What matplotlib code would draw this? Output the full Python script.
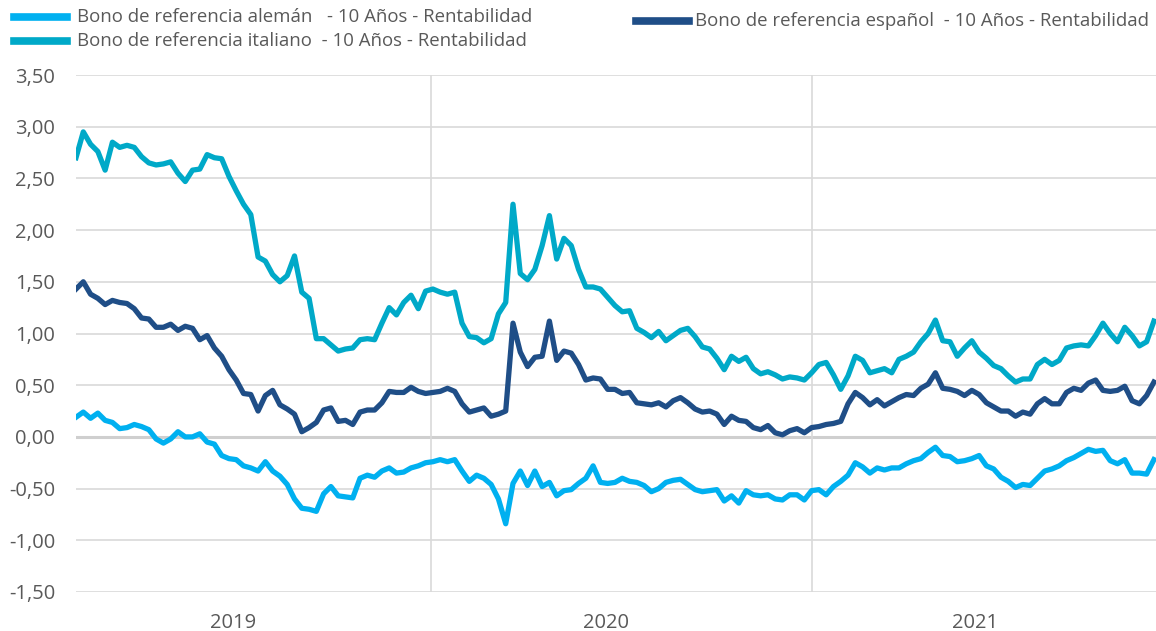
import matplotlib.pyplot as plt
from matplotlib.lines import Line2D
import pandas as pd

# weekly observations (Fridays) from 25-01-2019
fechas = pd.date_range('2019-01-25', periods=149, freq='7D')

aleman = [0.19, 0.24, 0.18, 0.23, 0.16, 0.14, 0.08, 0.09, 0.12, 0.10,
          0.07, -0.02, -0.06, -0.02, 0.05, 0.00, 0.00, 0.03, -0.05, -0.07,
          -0.18, -0.21, -0.22, -0.28, -0.30, -0.33, -0.24, -0.33, -0.38, -0.46,
          -0.60, -0.69, -0.70, -0.72, -0.55, -0.48, -0.57, -0.58, -0.59, -0.40,
          -0.37, -0.39, -0.33, -0.30, -0.35, -0.34, -0.30, -0.28, -0.25, -0.24,
          -0.22, -0.24, -0.22, -0.33, -0.43, -0.37, -0.40, -0.46, -0.60, -0.84,
          -0.45, -0.33, -0.47, -0.33, -0.48, -0.44, -0.57, -0.52, -0.51, -0.45,
          -0.40, -0.28, -0.44, -0.45, -0.44, -0.40, -0.43, -0.44, -0.47, -0.53,
          -0.50, -0.44, -0.42, -0.41, -0.46, -0.51, -0.53, -0.52, -0.51, -0.62,
          -0.57, -0.64, -0.52, -0.56, -0.57, -0.56, -0.60, -0.61, -0.56, -0.56,
          -0.61, -0.52, -0.51, -0.56, -0.48, -0.43, -0.37, -0.25, -0.29, -0.35,
          -0.30, -0.32, -0.30, -0.30, -0.26, -0.23, -0.21, -0.15, -0.10, -0.18,
          -0.19, -0.24, -0.23, -0.21, -0.18, -0.28, -0.31, -0.39, -0.43, -0.49,
          -0.46, -0.47, -0.40, -0.33, -0.31, -0.28, -0.23, -0.20, -0.16, -0.12,
          -0.14, -0.13, -0.23, -0.26, -0.22, -0.35, -0.35, -0.36, -0.22]

italiano = [2.70, 2.95, 2.83, 2.76, 2.58, 2.85, 2.80, 2.82, 2.80, 2.71,
            2.65, 2.63, 2.64, 2.66, 2.55, 2.47, 2.58, 2.59, 2.73, 2.70,
            2.69, 2.52, 2.38, 2.25, 2.15, 1.74, 1.70, 1.57, 1.50, 1.56,
            1.75, 1.40, 1.34, 0.95, 0.95, 0.89, 0.83, 0.85, 0.86, 0.94,
            0.95, 0.94, 1.10, 1.25, 1.18, 1.30, 1.37, 1.24, 1.41, 1.43,
            1.40, 1.38, 1.40, 1.10, 0.97, 0.96, 0.91, 0.95, 1.19, 1.30,
            2.25, 1.58, 1.52, 1.62, 1.85, 2.14, 1.72, 1.92, 1.85, 1.62,
            1.45, 1.45, 1.43, 1.35, 1.27, 1.21, 1.22, 1.05, 1.01, 0.96,
            1.02, 0.93, 0.98, 1.03, 1.05, 0.97, 0.87, 0.85, 0.76, 0.65,
            0.78, 0.73, 0.77, 0.66, 0.61, 0.63, 0.60, 0.56, 0.58, 0.57,
            0.55, 0.62, 0.70, 0.72, 0.60, 0.46, 0.59, 0.78, 0.74, 0.62,
            0.64, 0.66, 0.62, 0.75, 0.78, 0.82, 0.92, 1.00, 1.13, 0.93,
            0.92, 0.78, 0.86, 0.93, 0.82, 0.76, 0.69, 0.66, 0.59, 0.53,
            0.56, 0.56, 0.70, 0.75, 0.70, 0.74, 0.86, 0.88, 0.89, 0.88,
            0.98, 1.10, 1.00, 0.92, 1.06, 0.98, 0.88, 0.92, 1.12]

espanol = [1.43, 1.50, 1.38, 1.34, 1.28, 1.32, 1.30, 1.29, 1.24, 1.15,
           1.14, 1.06, 1.06, 1.09, 1.03, 1.07, 1.05, 0.94, 0.98, 0.86,
           0.78, 0.65, 0.55, 0.42, 0.41, 0.25, 0.40, 0.45, 0.31, 0.27,
           0.22, 0.05, 0.09, 0.14, 0.26, 0.28, 0.15, 0.16, 0.12, 0.24,
           0.26, 0.26, 0.33, 0.44, 0.43, 0.43, 0.48, 0.44, 0.42, 0.43,
           0.44, 0.47, 0.44, 0.32, 0.24, 0.26, 0.28, 0.20, 0.22, 0.25,
           1.10, 0.82, 0.68, 0.77, 0.78, 1.12, 0.74, 0.83, 0.81, 0.70,
           0.55, 0.57, 0.56, 0.46, 0.46, 0.42, 0.43, 0.33, 0.32, 0.31,
           0.33, 0.29, 0.35, 0.38, 0.33, 0.27, 0.24, 0.25, 0.22, 0.12,
           0.20, 0.16, 0.15, 0.09, 0.07, 0.11, 0.04, 0.02, 0.06, 0.08,
           0.04, 0.09, 0.10, 0.12, 0.13, 0.15, 0.32, 0.43, 0.38, 0.31,
           0.36, 0.30, 0.34, 0.38, 0.41, 0.40, 0.47, 0.51, 0.62, 0.47,
           0.46, 0.44, 0.40, 0.45, 0.41, 0.33, 0.29, 0.25, 0.25, 0.20,
           0.24, 0.22, 0.32, 0.37, 0.32, 0.32, 0.43, 0.47, 0.45, 0.52,
           0.55, 0.45, 0.44, 0.45, 0.49, 0.35, 0.32, 0.40, 0.53]

series = [
    ('Bono de referencia alemán   - 10 Años - Rentabilidad', aleman, '#00b0f0'),
    ('Bono de referencia italiano  - 10 Años - Rentabilidad', italiano, '#00a9c8'),
    ('Bono de referencia español  - 10 Años - Rentabilidad', espanol, '#1f4e87'),
]

plt.rcParams['font.family'] = ['Open Sans', 'DejaVu Sans']

fig = plt.figure(figsize=(11.56, 6.31), dpi=100)
ax = fig.add_axes([76 / 1156, 1 - 592 / 631, 1 - 76 / 1156, (592 - 75) / 631])

for nombre, valores, color in series:
    ax.plot(fechas, valores, color=color, lw=3.8, solid_joinstyle='round', zorder=3)

ax.set_xlim(pd.Timestamp('2019-01-25'), pd.Timestamp('2021-11-28'))
ax.set_ylim(-1.5, 3.5)

yt = [-1.5, -1.0, -0.5, 0.0, 0.5, 1.0, 1.5, 2.0, 2.5, 3.0, 3.5]
ax.set_yticks(yt)
ax.set_yticklabels([f'{v:.2f}'.replace('.', ',') for v in yt])
for v in yt:
    ax.axhline(v, color='#cfcfcf' if v == 0 else '#d9d9d9', lw=2.2 if v == 0 else 1.2, zorder=1)
for d in ['2020-01-01', '2021-01-01']:
    ax.axvline(pd.Timestamp(d), color='#d9d9d9', lw=1.2, zorder=1)

ax.set_xticks([pd.Timestamp('2019-06-25'), pd.Timestamp('2020-06-17'), pd.Timestamp('2021-06-07')])
ax.set_xticklabels(['2019', '2020', '2021'])
ax.tick_params(length=0, labelsize=14.5, labelcolor='#595959')
ax.tick_params(axis='y', pad=15)
ax.tick_params(axis='x', pad=15)
for s in ax.spines.values():
    s.set_visible(False)

# leyenda
def entrada(x0, x1, xt, y, texto, color):
    fy = 1 - y / 631
    fig.add_artist(Line2D([x0 / 1156, x1 / 1156], [fy, fy], color=color, lw=5.5,
                          transform=fig.transFigure))
    fig.text(xt / 1156, fy, texto, va='center', ha='left', fontsize=13.4, color='#595959')

entrada(14, 67, 77, 17, series[0][0], series[0][2])
entrada(14, 67, 77, 41, series[1][0], series[1][2])
entrada(636, 689, 695, 21, series[2][0], series[2][2])

fig.savefig('out.png', dpi=100)
